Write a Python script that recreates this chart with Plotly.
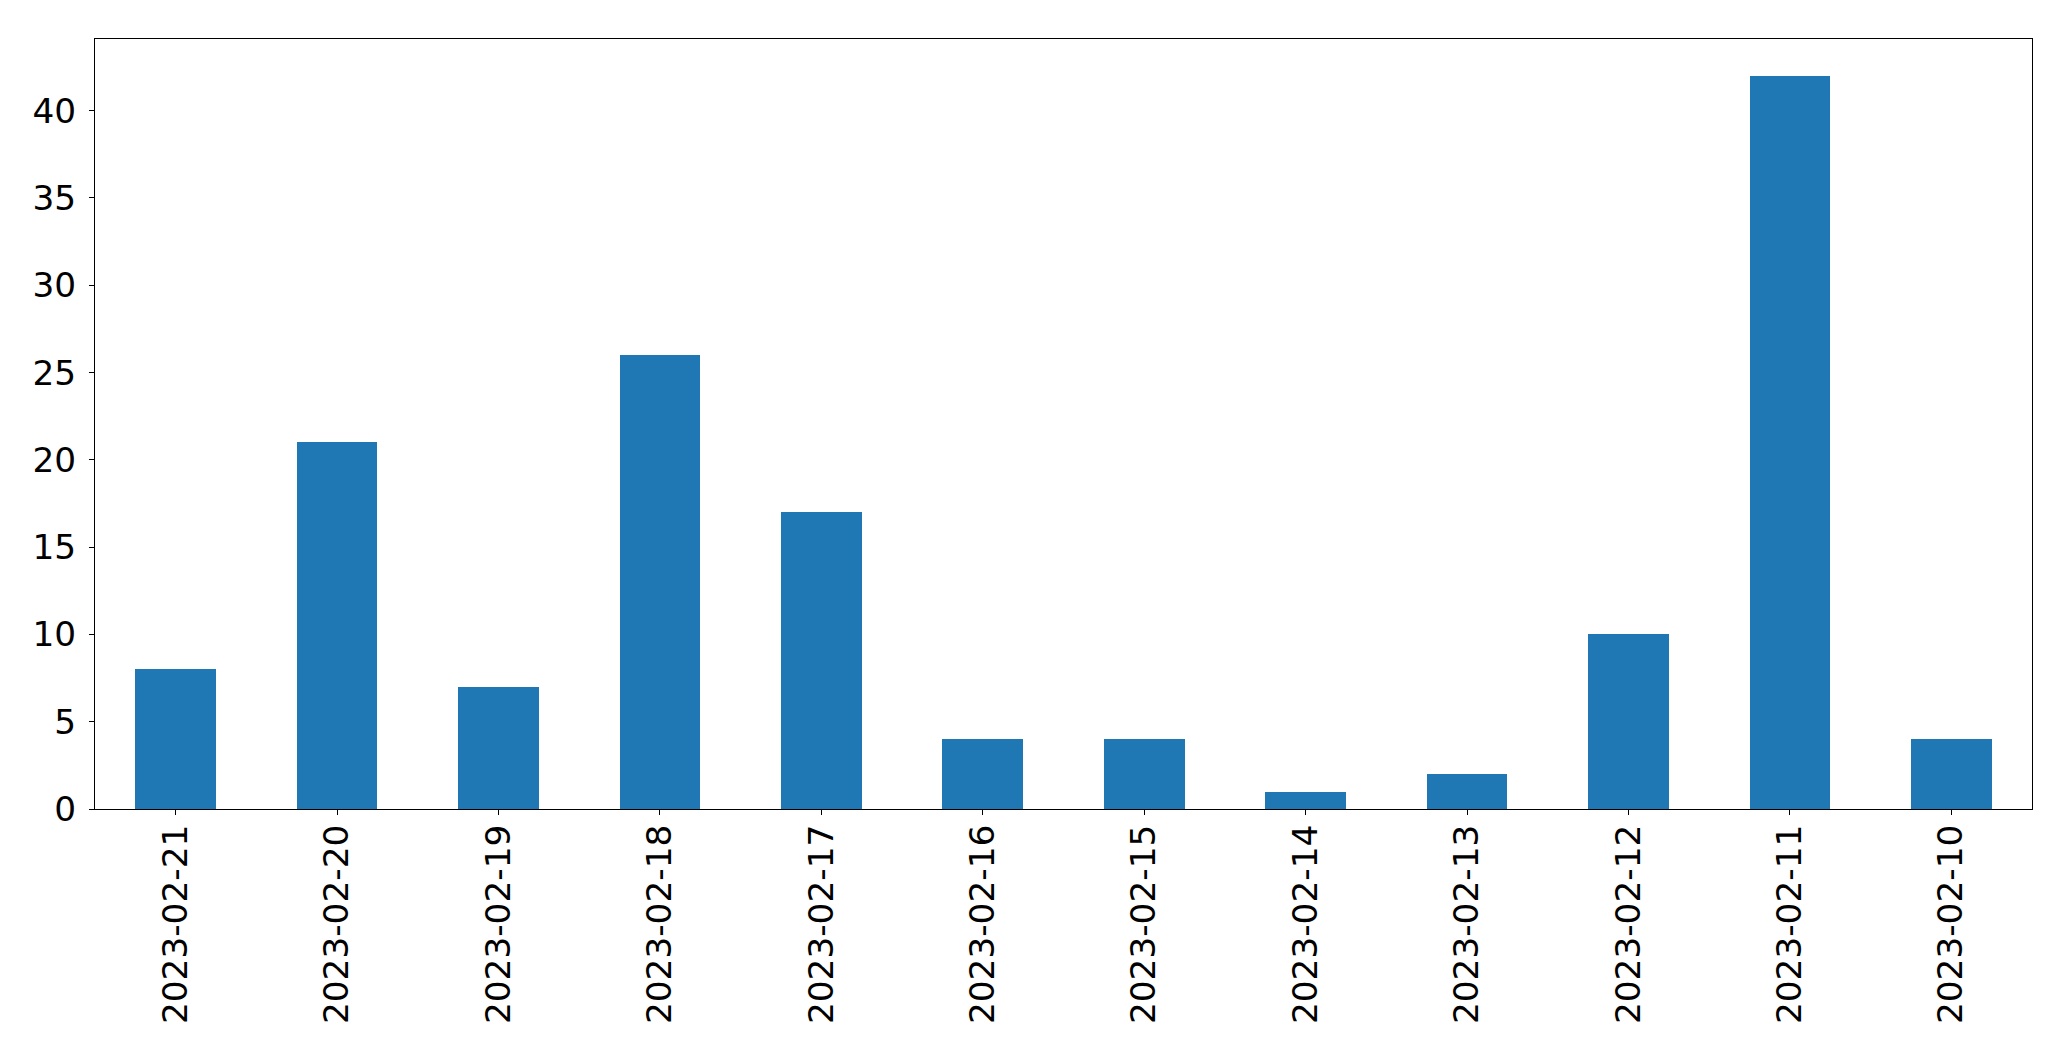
import plotly.graph_objects as go

dates = ["2023-02-21", "2023-02-20", "2023-02-19", "2023-02-18", "2023-02-17", "2023-02-16",
         "2023-02-15", "2023-02-14", "2023-02-13", "2023-02-12", "2023-02-11", "2023-02-10"]
counts = [8, 21, 7, 26, 17, 4, 4, 1, 2, 10, 42, 4]
y_ticks = [0, 5, 10, 15, 20, 25, 30, 35, 40]

fig = go.Figure(go.Bar(
    x=list(range(len(dates))), y=counts, width=0.5,
    marker=dict(color="#1f77b4", line=dict(width=0)),
))

fig.update_layout(
    width=2071, height=1061, autosize=False,
    margin=dict(l=95, r=39, t=39, b=252, pad=0),
    plot_bgcolor="white", paper_bgcolor="white",
    font=dict(family="DejaVu Sans", size=34.3, color="black"),
    showlegend=False,
    bargap=0,
)
fig.update_xaxes(
    range=[-0.5, len(dates) - 0.5],
    tickmode="array", tickvals=list(range(len(dates))), ticktext=dates,
    tickangle=-90, ticks="outside", ticklen=5, tickwidth=1, tickcolor="black",
    showline=True, linecolor="black", linewidth=1, mirror=True,
    showgrid=False, zeroline=False, ticklabelstandoff=-4,
)
fig.update_yaxes(
    range=[0, max(counts) * 1.05],
    tickmode="array", tickvals=y_ticks,
    ticks="outside", ticklen=5, tickwidth=1, tickcolor="black",
    showline=True, linecolor="black", linewidth=1, mirror=True,
    showgrid=False, zeroline=False, ticklabelstandoff=6,
)

fig.write_html(
    "out.html",
    config={"displayModeBar": False},
    post_script="document.body.style.margin='0';document.body.style.overflow='hidden';",
)
